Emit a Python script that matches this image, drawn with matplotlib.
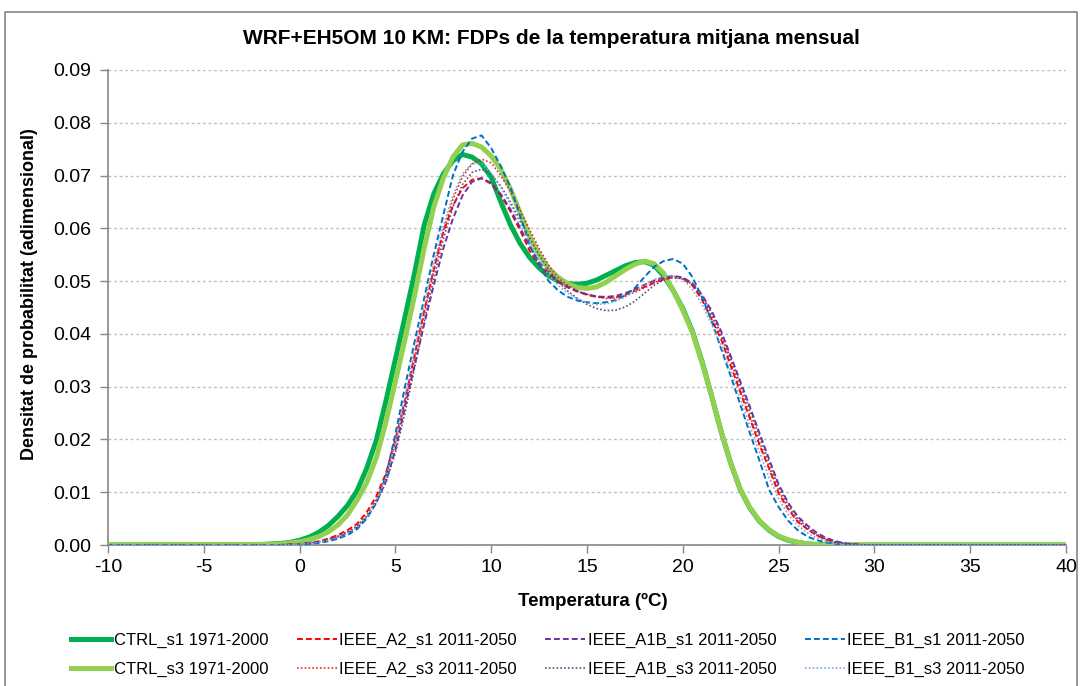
import numpy as np
import matplotlib
matplotlib.use("Agg")
import matplotlib.pyplot as plt
from matplotlib.lines import Line2D

plt.rcParams['font.family'] = ['Liberation Sans', 'DejaVu Sans']

# Temperature grid (°C): -2 .. 29.5 step 0.5, padded with the axis ends
temp_core = [-2 + 0.5 * i for i in range(64)]
x_min, x_max = -10, 40

ctrl_s1 = [0.0001, 0.0002, 0.0003, 0.0005, 0.0009, 0.0015, 0.0024, 0.0037, 0.0054, 0.0075,
           0.0103, 0.0145, 0.0198, 0.0272, 0.0352, 0.0432, 0.0515, 0.0606, 0.0665, 0.0703,
           0.0728, 0.0740, 0.0735, 0.0722, 0.0697, 0.0650, 0.0607, 0.0572, 0.0545, 0.0525,
           0.0510, 0.0500, 0.0495, 0.0494, 0.0496, 0.0502, 0.0511, 0.0520, 0.0529, 0.0535,
           0.0537, 0.0530, 0.0510, 0.0482, 0.0448, 0.0405, 0.0348, 0.0283, 0.0215, 0.0155,
           0.0105, 0.0070, 0.0045, 0.0028, 0.0016, 0.0009, 0.0005, 0.0002, 0.0001, 0.0,
           0.0, 0.0, 0.0, 0.0]
ctrl_s3 = [0.0001, 0.0001, 0.0002, 0.0004, 0.0006, 0.0010, 0.0016, 0.0025, 0.0038, 0.0057,
           0.0085, 0.0118, 0.0165, 0.0232, 0.0310, 0.0390, 0.0473, 0.0562, 0.0640, 0.0695,
           0.0735, 0.0758, 0.0761, 0.0754, 0.0737, 0.0712, 0.0675, 0.0630, 0.0585, 0.0550,
           0.0524, 0.0507, 0.0495, 0.0488, 0.0486, 0.0489, 0.0498, 0.0510, 0.0522, 0.0532,
           0.0538, 0.0533, 0.0515, 0.0482, 0.0445, 0.0403, 0.0346, 0.0283, 0.0215, 0.0155,
           0.0106, 0.0071, 0.0046, 0.0029, 0.0017, 0.0010, 0.0005, 0.0002, 0.0001, 0.0,
           0.0, 0.0, 0.0, 0.0]
a2_s1 = [0.0, 0.0, 0.0, 0.0001, 0.0002, 0.0004, 0.0007, 0.0012, 0.0019, 0.0028,
         0.0040, 0.0062, 0.0092, 0.0135, 0.0200, 0.0275, 0.0360, 0.0443, 0.0522, 0.0593,
         0.0643, 0.0676, 0.0692, 0.0695, 0.0684, 0.0663, 0.0632, 0.0597, 0.0558, 0.0530,
         0.0513, 0.0498, 0.0488, 0.0480, 0.0474, 0.0470, 0.0469, 0.0469, 0.0474, 0.0482,
         0.0489, 0.0497, 0.0503, 0.0508, 0.0505, 0.0492, 0.0465, 0.0428, 0.0390, 0.0340,
         0.0290, 0.0240, 0.0190, 0.0145, 0.0098, 0.0068, 0.0044, 0.0030, 0.0018, 0.0010,
         0.0005, 0.0002, 0.0001, 0.0]
a2_s3 = [0.0, 0.0, 0.0, 0.0001, 0.0002, 0.0004, 0.0006, 0.0011, 0.0017, 0.0025,
         0.0036, 0.0056, 0.0085, 0.0128, 0.0192, 0.0268, 0.0352, 0.0438, 0.0520, 0.0595,
         0.0655, 0.0698, 0.0722, 0.0731, 0.0724, 0.0700, 0.0670, 0.0635, 0.0598, 0.0562,
         0.0530, 0.0506, 0.0492, 0.0481, 0.0475, 0.0470, 0.0467, 0.0468, 0.0472, 0.0479,
         0.0487, 0.0497, 0.0504, 0.0507, 0.0504, 0.0495, 0.0470, 0.0435, 0.0395, 0.0348,
         0.0297, 0.0245, 0.0195, 0.0148, 0.0103, 0.0070, 0.0046, 0.0030, 0.0018, 0.0010,
         0.0005, 0.0002, 0.0001, 0.0]
a1b_s1 = [0.0, 0.0, 0.0, 0.0001, 0.0001, 0.0003, 0.0005, 0.0009, 0.0014, 0.0022,
          0.0033, 0.0052, 0.0080, 0.0120, 0.0180, 0.0262, 0.0340, 0.0418, 0.0492, 0.0562,
          0.0618, 0.0662, 0.0688, 0.0695, 0.0686, 0.0665, 0.0636, 0.0602, 0.0566, 0.0536,
          0.0516, 0.0500, 0.0489, 0.0481, 0.0475, 0.0471, 0.0470, 0.0472, 0.0477, 0.0485,
          0.0493, 0.0501, 0.0507, 0.0510, 0.0507, 0.0496, 0.0474, 0.0444, 0.0405, 0.0358,
          0.0310, 0.0262, 0.0212, 0.0163, 0.0115, 0.0080, 0.0054, 0.0037, 0.0023, 0.0013,
          0.0007, 0.0003, 0.0001, 0.0]
a1b_s3 = [0.0, 0.0, 0.0, 0.0001, 0.0002, 0.0004, 0.0006, 0.0010, 0.0016, 0.0024,
          0.0035, 0.0054, 0.0080, 0.0118, 0.0175, 0.0250, 0.0335, 0.0422, 0.0505, 0.0580,
          0.0640, 0.0683, 0.0706, 0.0712, 0.0703, 0.0680, 0.0650, 0.0616, 0.0582, 0.0550,
          0.0522, 0.0499, 0.0481, 0.0467, 0.0456, 0.0448, 0.0444, 0.0445, 0.0451, 0.0462,
          0.0477, 0.0492, 0.0502, 0.0507, 0.0505, 0.0494, 0.0472, 0.0440, 0.0400, 0.0354,
          0.0305, 0.0256, 0.0206, 0.0157, 0.0110, 0.0076, 0.0050, 0.0033, 0.0020, 0.0011,
          0.0006, 0.0002, 0.0001, 0.0]
b1_s1 = [0.0, 0.0, 0.0, 0.0, 0.0001, 0.0002, 0.0004, 0.0007, 0.0012, 0.0019,
         0.0030, 0.0050, 0.0080, 0.0130, 0.0210, 0.0300, 0.0385, 0.0467, 0.0550, 0.0625,
         0.0700, 0.0745, 0.0770, 0.0776, 0.0752, 0.0718, 0.0678, 0.0625, 0.0570, 0.0530,
         0.0500, 0.0482, 0.0470, 0.0463, 0.0460, 0.0458, 0.0460, 0.0464, 0.0473, 0.0487,
         0.0508, 0.0527, 0.0538, 0.0542, 0.0533, 0.0508, 0.0470, 0.0425, 0.0372, 0.0320,
         0.0266, 0.0212, 0.0160, 0.0105, 0.0072, 0.0046, 0.0028, 0.0016, 0.0009, 0.0005,
         0.0002, 0.0001, 0.0, 0.0]
b1_s3 = [0.0, 0.0, 0.0, 0.0001, 0.0002, 0.0003, 0.0005, 0.0009, 0.0014, 0.0022,
         0.0033, 0.0053, 0.0082, 0.0125, 0.0195, 0.0280, 0.0370, 0.0455, 0.0535, 0.0605,
         0.0662, 0.0703, 0.0723, 0.0722, 0.0705, 0.0678, 0.0645, 0.0610, 0.0574, 0.0540,
         0.0512, 0.0492, 0.0477, 0.0466, 0.0459, 0.0456, 0.0457, 0.0462, 0.0470, 0.0481,
         0.0493, 0.0503, 0.0509, 0.0510, 0.0503, 0.0484, 0.0456, 0.0418, 0.0378, 0.0330,
         0.0278, 0.0226, 0.0176, 0.0128, 0.0088, 0.0058, 0.0037, 0.0023, 0.0013, 0.0007,
         0.0003, 0.0001, 0.0, 0.0]

series_labels = ["CTRL_s1 1971-2000", "CTRL_s3 1971-2000",
                 "IEEE_A2_s1 2011-2050", "IEEE_A2_s3 2011-2050",
                 "IEEE_A1B_s1 2011-2050", "IEEE_A1B_s3 2011-2050",
                 "IEEE_B1_s1 2011-2050", "IEEE_B1_s3 2011-2050"]
series_values = [ctrl_s1, ctrl_s3, a2_s1, a2_s3, a1b_s1, a1b_s3, b1_s1, b1_s3]

x_ticks = [-10, -5, 0, 5, 10, 15, 20, 25, 30, 35, 40]
y_ticks = [0.00, 0.01, 0.02, 0.03, 0.04, 0.05, 0.06, 0.07, 0.08, 0.09]

styles = [
    dict(color="#00B050", lw=3.6, ls="-", zorder=3),
    dict(color="#92D050", lw=3.6, ls="-", zorder=3),
    dict(color="#FF0000", lw=1.4, ls=(0, (3, 1.6)), zorder=4),
    dict(color="#E8262B", lw=1.2, ls=(0, (1, 1.3)), zorder=4),
    dict(color="#7030A0", lw=1.4, ls=(0, (3, 1.6)), zorder=4),
    dict(color="#5F4B7F", lw=1.2, ls=(0, (1, 1.3)), zorder=4),
    dict(color="#0070C0", lw=1.4, ls=(0, (3, 1.6)), zorder=4),
    dict(color="#7FA8DA", lw=1.2, ls=(0, (1, 1.3)), zorder=4),
]

fig = plt.figure(figsize=(10.81, 6.86), dpi=100)
ax = fig.add_axes([108 / 1081, 1 - 545 / 686, (1066 - 108) / 1081, (545 - 70) / 686])

handles = []
for vals, lab, st in zip(series_values, series_labels, styles):
    xs = [x_min] + temp_core + [x_max]
    ys = [0.0] + list(vals) + [0.0]
    ax.plot(xs, ys, color=st["color"], lw=st["lw"], ls=st["ls"], zorder=st["zorder"],
            solid_capstyle="round", dash_capstyle="butt")
    handles.append(Line2D([], [], color=st["color"], lw=st["lw"], ls=st["ls"]))

ax.set_xlim(x_min, x_max)
ax.set_ylim(0, 0.09)
ax.set_xticks(x_ticks)
ax.set_yticks(y_ticks)
ax.set_xticklabels([str(t) for t in x_ticks])
ax.set_yticklabels(["%.2f" % t for t in y_ticks])
ax.tick_params(axis="both", labelsize=14, colors="#868686", labelcolor="black",
               length=6, width=1, direction="out")
ax.tick_params(axis="x", pad=4)
ax.tick_params(axis="y", pad=6)
ax.yaxis.grid(True, color="#BFBFBF", ls=(0, (2, 2)), lw=1)
ax.set_axisbelow(True)
for s in ["top", "right"]:
    ax.spines[s].set_visible(False)
for s in ["left", "bottom"]:
    ax.spines[s].set_color("#868686")
    ax.spines[s].set_linewidth(1.2)

ax.set_xlabel("Temperatura (ºC)", fontsize=13.5, fontweight="bold")
ax.xaxis.set_label_coords((593 - 108) / 958, -(593 - 545) / 475)
ax.set_ylabel("Densitat de probabilitat (adimensional)", fontsize=13, fontweight="bold")
ax.yaxis.set_label_coords(-(108 - 38) / 958, (545 - 294) / 475)
fig.text(551 / 1081, 1 - 38 / 686, "WRF+EH5OM 10 KM: FDPs de la temperatura mitjana mensual",
         ha="center", va="center", fontsize=15, fontweight="bold")

fig.legend(handles, series_labels, ncol=4, loc="center", bbox_to_anchor=(548 / 1081, 1 - 655 / 686),
           frameon=False, fontsize=12, handlelength=2.4, handletextpad=0.15, columnspacing=1.7,
           labelspacing=0.8)

# outer chart border
fig.add_artist(Line2D([5 / 1081, 5 / 1081, 1077 / 1081, 1077 / 1081],
                      [0, 1 - 12 / 686, 1 - 12 / 686, 0], color="#868686", lw=1.2,
                      transform=fig.transFigure))

fig.savefig("out.png", dpi=100)
